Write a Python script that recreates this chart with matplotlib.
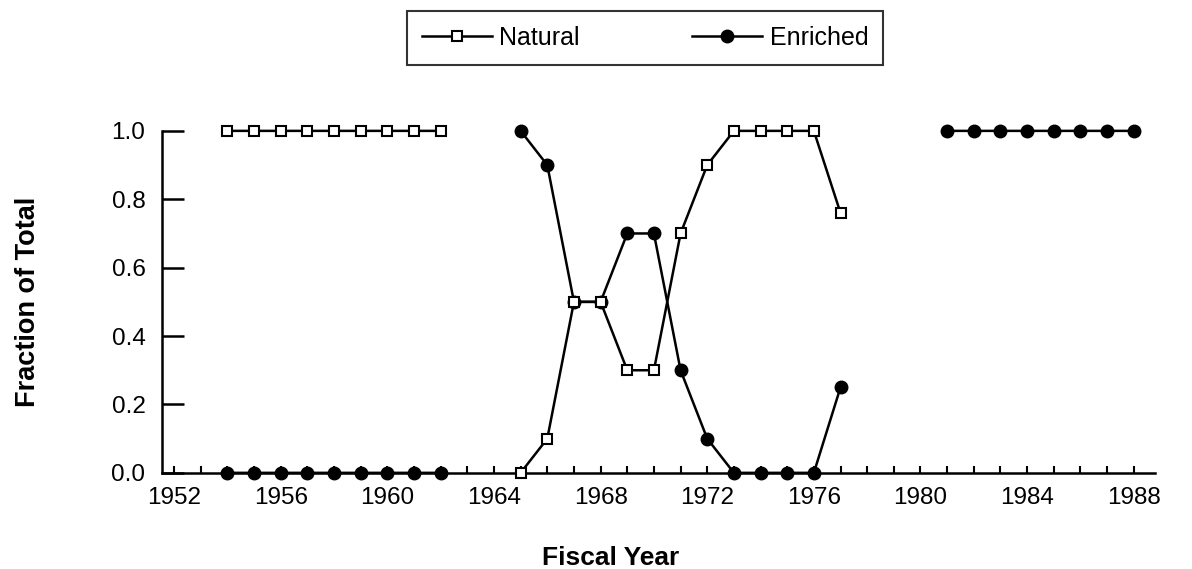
import numpy as np
import matplotlib.pyplot as plt
from matplotlib.ticker import MultipleLocator

plt.rcParams['font.family'] = ['Liberation Sans', 'DejaVu Sans']

# Data (NaN = no value plotted)
years = list(range(1954, 1989))
natural = [1.0, 1.0, 1.0, 1.0, 1.0, 1.0, 1.0, 1.0, 1.0,       # 1954-1962
           np.nan, np.nan,                                    # 1963-1964
           0.0, 0.1, 0.5, 0.5, 0.3, 0.3, 0.7, 0.9, 1.0,        # 1965-1973
           1.0, 1.0, 1.0, 0.76,                               # 1974-1977
           np.nan, np.nan, np.nan, np.nan, np.nan, np.nan,    # 1978-1983
           np.nan, np.nan, np.nan, np.nan, np.nan]            # 1984-1988
enriched = [0.0, 0.0, 0.0, 0.0, 0.0, 0.0, 0.0, 0.0, 0.0,
            np.nan, np.nan,
            1.0, 0.9, 0.5, 0.5, 0.7, 0.7, 0.3, 0.1, 0.0,
            0.0, 0.0, 0.0, 0.25,
            np.nan, np.nan, np.nan,
            1.0, 1.0, 1.0, 1.0, 1.0, 1.0, 1.0, 1.0]

fig = plt.figure(figsize=(11.92, 5.69), dpi=100)
ax = fig.add_axes([0.136, 0.169, 0.833, 0.601])

ax.plot(years, natural, color='black', lw=1.8, marker='s', ms=7,
        mfc='white', mec='black', mew=1.5, label='Natural', clip_on=False, zorder=5)
ax.plot(years, enriched, color='black', lw=1.8, marker='o', ms=9,
        mfc='black', mec='black', label='Enriched', clip_on=False, zorder=4)

ax.set_xlim(1951.55, 1988.8)
ax.set_ylim(0, 1.0)
ax.xaxis.set_major_locator(MultipleLocator(4))
ax.xaxis.set_minor_locator(MultipleLocator(1))
ax.set_yticks([0, 0.2, 0.4, 0.6, 0.8, 1.0])
ax.set_yticklabels(['0.0', '0.2', '0.4', '0.6', '0.8', '1.0'])

ax.tick_params(axis='x', which='both', direction='in', length=5, width=1.5, pad=10, labelsize=17.5)
ax.tick_params(axis='y', which='major', direction='in', length=16, width=1.8, pad=12, labelsize=17.5)

for s in ['top', 'right']:
    ax.spines[s].set_visible(False)
for s in ['left', 'bottom']:
    ax.spines[s].set_linewidth(1.8)

ax.set_xlabel('Fiscal Year', fontsize=19, fontweight='bold')
ax.xaxis.set_label_coords(0.452, -0.215)
ax.set_ylabel('Fraction of Total', fontsize=19.5, fontweight='bold')
ax.yaxis.set_label_coords(-0.122, 0.5)

leg = fig.legend(loc='center', bbox_to_anchor=(0.541, 0.933), ncol=2, fontsize=18,
                 frameon=True, fancybox=False, edgecolor='black', handlelength=2.8,
                 columnspacing=4.5, borderpad=0.6, handletextpad=0.3, borderaxespad=0)
leg.get_frame().set_linewidth(1.5)

fig.savefig('out.png', dpi=100)
